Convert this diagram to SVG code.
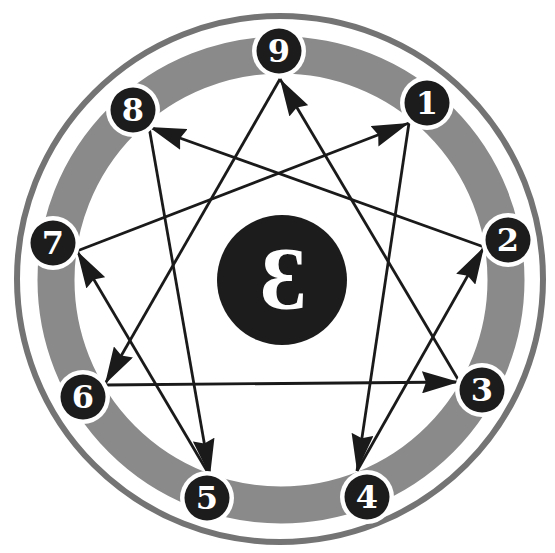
<svg xmlns="http://www.w3.org/2000/svg" width="555" height="553" viewBox="0 0 555 553">
<style>
.ring{fill:none;stroke:#747474;stroke-width:6}
.band{fill:none;stroke:#8a8a8a;stroke-width:37}
.edge{fill:none;stroke:#1a1a1a;stroke-width:2.8;marker-end:url(#ah)}
.halo{fill:#ffffff}
.dot{fill:#1c1c1c}
.num{fill:#ffffff;font-family:"DejaVu Serif","Liberation Serif",serif;font-weight:bold;font-size:32px;text-anchor:middle}
</style>
<defs>
<marker id="ah" markerUnits="userSpaceOnUse" markerWidth="38" markerHeight="22" viewBox="0 0 38 22" refX="37" refY="11" orient="auto">
<path d="M0,0 L37,11 L0,22 L4,11 z" fill="#1a1a1a"/>
</marker>
</defs>
<rect width="555" height="553" fill="#ffffff"/>
<g id="rings">
<circle class="ring" cx="280" cy="279" r="263"/>
<circle class="band" cx="281" cy="280" r="225"/>
</g>
<g id="connectors">
<line class="edge" x1="409" y1="123" x2="357" y2="471"/>
<line class="edge" x1="357" y1="471" x2="484" y2="247"/>
<line class="edge" x1="484" y1="247" x2="149" y2="127"/>
<line class="edge" x1="149" y1="127" x2="210" y2="476"/>
<line class="edge" x1="210" y1="476" x2="77" y2="251"/>
<line class="edge" x1="77" y1="251" x2="409" y2="123"/>
<line class="edge" x1="280" y1="79" x2="105" y2="384"/>
<line class="edge" x1="105" y1="385" x2="459" y2="382"/>
<line class="edge" x1="459" y1="381" x2="280" y2="79"/>
</g>
<g id="center">
<circle class="dot" cx="282" cy="280" r="65"/>
<text x="283" y="308" fill="#ffffff" font-family="Liberation Serif, DejaVu Serif, serif" font-size="88" font-weight="bold" text-anchor="middle">Ɛ</text>
</g>
<g id="n9"><circle class="halo" cx="279" cy="51" r="27"/><circle class="dot" cx="279" cy="51" r="22.5"/><text class="num" x="279" y="62">9</text></g>
<g id="n1"><circle class="halo" cx="427" cy="103" r="27"/><circle class="dot" cx="427" cy="103" r="22.5"/><text class="num" x="427" y="114">1</text></g>
<g id="n2"><circle class="halo" cx="508" cy="240" r="27"/><circle class="dot" cx="508" cy="240" r="22.5"/><text class="num" x="508" y="251">2</text></g>
<g id="n3"><circle class="halo" cx="482" cy="390" r="27"/><circle class="dot" cx="482" cy="390" r="22.5"/><text class="num" x="482" y="401">3</text></g>
<g id="n4"><circle class="halo" cx="367" cy="497" r="27"/><circle class="dot" cx="367" cy="497" r="22.5"/><text class="num" x="367" y="508">4</text></g>
<g id="n5"><circle class="halo" cx="207" cy="498" r="27"/><circle class="dot" cx="207" cy="498" r="22.5"/><text class="num" x="207" y="509">5</text></g>
<g id="n6"><circle class="halo" cx="83" cy="397" r="27"/><circle class="dot" cx="83" cy="397" r="22.5"/><text class="num" x="83" y="408">6</text></g>
<g id="n7"><circle class="halo" cx="53" cy="243" r="27"/><circle class="dot" cx="53" cy="243" r="22.5"/><text class="num" x="53" y="254">7</text></g>
<g id="n8"><circle class="halo" cx="133" cy="110" r="27"/><circle class="dot" cx="133" cy="110" r="22.5"/><text class="num" x="133" y="121">8</text></g>
</svg>
